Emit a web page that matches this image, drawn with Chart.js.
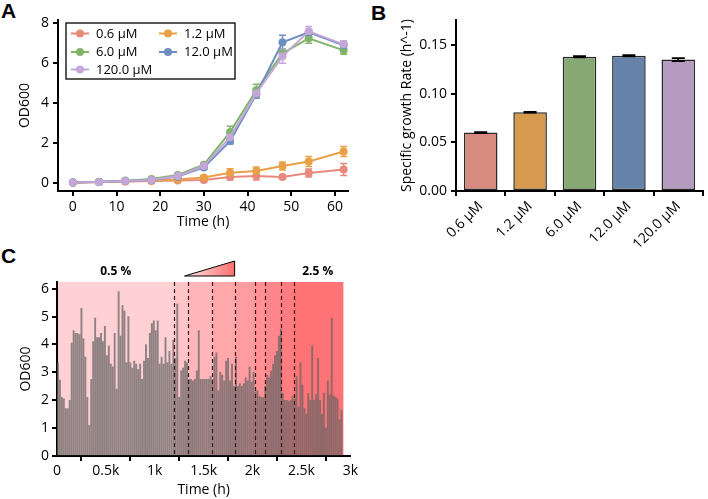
<!DOCTYPE html>
<html><head><meta charset="utf-8">
<script src="https://cdn.jsdelivr.net/npm/chart.js@4.4.0/dist/chart.umd.min.js"></script>
<style>
html,body{margin:0;padding:0;background:#fff;}
body{width:708px;height:499px;overflow:hidden;position:relative;}
canvas{position:absolute;}
.lbl{position:absolute;font:bold 21px "Liberation Sans",Arial,sans-serif;color:#000;line-height:1;}
</style></head><body>
<div class="lbl" style="left:1px;top:0px">A</div>
<div class="lbl" style="left:371px;top:2px">B</div>
<div class="lbl" style="left:1px;top:245px">C</div>
<canvas id="ca" style="left:0;top:0" width="360" height="235"></canvas>
<canvas id="cb" style="left:360px;top:0" width="348" height="260"></canvas>
<canvas id="cc" style="left:0;top:240px" width="360" height="259"></canvas>
<script>
// ---------- Panel A data ----------
const aTimes = [0, 6, 12, 18, 24, 30, 36, 42, 48, 54, 62];
const aLabels = ['0.6 µM', '1.2 µM', '6.0 µM', '12.0 µM', '120.0 µM'];
const aColors = ['#E8897D', '#E9A046', '#80B46C', '#6D8FC0', '#C4A6D8'];
const od_06  = [0.02, 0.05, 0.08, 0.10, 0.12, 0.15, 0.30, 0.35, 0.30, 0.50, 0.68];
const od_12  = [0.02, 0.05, 0.08, 0.12, 0.18, 0.28, 0.52, 0.60, 0.85, 1.08, 1.58];
const od_60  = [0.02, 0.06, 0.12, 0.20, 0.40, 0.92, 2.55, 4.65, 6.50, 7.25, 6.65];
const od_120 = [0.02, 0.05, 0.10, 0.15, 0.32, 0.78, 2.10, 4.45, 7.05, 7.55, 6.90];
const od_1200= [0.02, 0.05, 0.10, 0.15, 0.35, 0.85, 2.30, 4.50, 6.35, 7.60, 6.95];
const err_06  = [0.02, 0.02, 0.02, 0.03, 0.05, 0.08, 0.15, 0.20, 0.10, 0.20, 0.30];
const err_12  = [0.02, 0.02, 0.02, 0.03, 0.05, 0.08, 0.20, 0.20, 0.20, 0.25, 0.25];
const err_60  = [0.02, 0.02, 0.02, 0.03, 0.05, 0.08, 0.30, 0.30, 0.20, 0.25, 0.20];
const err_120 = [0.02, 0.02, 0.02, 0.03, 0.05, 0.08, 0.15, 0.20, 0.35, 0.15, 0.20];
const err_1200= [0.02, 0.02, 0.02, 0.03, 0.05, 0.08, 0.20, 0.20, 0.35, 0.25, 0.15];
const aTicksY = [0, 2, 4, 6, 8];
const aTicksX = [0, 10, 20, 30, 40, 50, 60];

// ---------- Panel B data ----------
const bLabels = ['0.6 µM', '1.2 µM', '6.0 µM', '12.0 µM', '120.0 µM'];
const bRates  = [0.060, 0.081, 0.138, 0.139, 0.135];
const bErrs   = [0.0004, 0.0004, 0.0006, 0.0006, 0.0015];
const bColors = ['#D78B7F', '#D69A4F', '#86A872', '#6683A9', '#B59BBF'];
const bTicksY = [0, 0.05, 0.10, 0.15];

// ---------- Panel C data ----------
const cTimes = [
  10, 30, 50, 70, 90, 110, 130, 150, 170, 190,
  210, 230, 250, 270, 290, 310, 330, 350, 370, 390,
  410, 430, 450, 470, 490, 510, 530, 550, 570, 590,
  610, 630, 650, 670, 690, 710, 730, 750, 770, 790,
  810, 830, 850, 870, 890, 910, 930, 950, 970, 990,
  1010, 1030, 1050, 1070, 1090, 1110, 1130, 1150, 1170, 1190,
  1210, 1230, 1250, 1270, 1290, 1310, 1330, 1350, 1370, 1390,
  1410, 1430, 1450, 1470, 1490, 1510, 1530, 1550, 1570, 1590,
  1610, 1630, 1650, 1670, 1690, 1710, 1730, 1750, 1770, 1790,
  1810, 1830, 1850, 1870, 1890, 1910, 1930, 1950, 1970, 1990,
  2010, 2030, 2050, 2070, 2090, 2110, 2130, 2150, 2170, 2190,
  2210, 2230, 2250, 2270, 2290, 2310, 2330, 2350, 2370, 2390,
  2410, 2430, 2450, 2470, 2490, 2510, 2530, 2550, 2570, 2590,
  2610, 2630, 2650, 2670, 2690, 2710, 2730, 2750, 2770, 2790,
  2810, 2830, 2850, 2870, 2890, 2910];
const cOD = [
  3.35, 2.72, 2.10, 2.05, 1.70, 1.70, 2.00, 4.05, 4.50, 4.40,
  4.40, 4.35, 5.30, 4.20, 3.55, 2.10, 1.10, 2.75, 4.10, 4.95,
  4.25, 4.25, 4.40, 4.10, 4.65, 3.60, 3.95, 3.30, 3.20, 4.40,
  2.40, 5.90, 4.30, 5.40, 5.20, 3.35, 5.00, 3.35, 3.15, 3.40,
  3.30, 3.10, 3.30, 2.75, 3.40, 4.00, 3.50, 4.40, 4.75, 4.85,
  4.50, 4.85, 3.30, 3.55, 3.30, 4.25, 3.35, 3.75, 3.30, 4.15,
  3.50, 5.45, 2.10, 3.05, 3.15, 3.40, 3.35, 2.75, 2.75, 2.70,
  2.75, 3.05, 4.50, 2.75, 2.75, 2.75, 2.75, 2.75, 2.85, 2.75,
  3.55, 3.70, 2.35, 3.00, 2.90, 2.70, 3.40, 3.50, 2.70, 3.30,
  2.50, 3.55, 2.50, 2.60, 2.50, 2.60, 2.80, 2.70, 3.20, 2.65,
  3.00, 2.30, 2.35, 2.15, 2.10, 2.10, 2.50, 2.90, 2.80, 3.05,
  3.30, 3.60, 3.75, 4.30, 4.55, 2.25, 2.00, 2.00, 1.95, 2.00,
  2.15, 2.05, 2.85, 1.75, 3.35, 2.55, 1.70, 1.50, 2.25, 2.00,
  3.95, 2.00, 2.20, 3.50, 2.00, 1.50, 2.25, 1.00, 2.70, 2.20,
  4.95, 2.15, 2.10, 2.05, 1.30, 1.65];
const cBounds = [0, 1193, 1339, 1588, 1820, 2022, 2127, 2289, 2421, 2926];
const cBandColors = ['#FFD0D4', '#FFC4C8', '#FFB6BA', '#FFA8AC', '#FF9CA0', '#FF9195', '#FF878B', '#FF7D81', '#FF7276'];
const cTickLabels = {0: '0', 500: '0.5k', 1000: '1k', 1500: '1.5k', 2000: '2k', 2500: '2.5k', 3000: '3k'};
const cNotes = [{x: 600, text: '0.5 %'}, {x: 2666, text: '2.5 %'}];
const cRamp = [1305, 1817];

Chart.defaults.font.family = '"Open Sans", "DejaVu Sans", sans-serif';
Chart.defaults.font.size = 13;
Chart.defaults.color = '#000';
Chart.defaults.animation = false;
Chart.defaults.devicePixelRatio = 1;
Chart.defaults.plugins.legend.display = false;
Chart.defaults.plugins.tooltip.enabled = false;

function axisStyle() {
  return {
    border: {display: true, color: '#000', width: 2},
    grid: {display: true, drawOnChartArea: false, drawTicks: true, tickLength: 5, color: '#000', lineWidth: 2}
  };
}
function fixTicks(list) {
  return function (scale) { scale.ticks = list.map(v => ({value: v})); };
}

// ---------- Panel A ----------
const aSeries = [od_06, od_12, od_60, od_120, od_1200];
const aErrs = [err_06, err_12, err_60, err_120, err_1200];
const aOrder = [4, 3, 2, 1, 0];
const errPluginA = {
  id: 'errA',
  beforeDatasetsDraw(chart) {
    const ctx = chart.ctx, xs = chart.scales.x, ys = chart.scales.y;
    ctx.save();
    chart.data.datasets.forEach((ds, i) => {
      ctx.strokeStyle = ds.borderColor;
      ctx.lineWidth = 1.5;
      aTimes.forEach((t, j) => {
        const v = aSeries[i][j], e = aErrs[i][j];
        const px = xs.getPixelForValue(t);
        const y1 = ys.getPixelForValue(v + e), y2 = ys.getPixelForValue(v - e);
        ctx.beginPath();
        ctx.moveTo(px, y1); ctx.lineTo(px, y2);
        ctx.moveTo(px - 3.5, y1); ctx.lineTo(px + 3.5, y1);
        ctx.moveTo(px - 3.5, y2); ctx.lineTo(px + 3.5, y2);
        ctx.stroke();
      });
    });
    ctx.restore();
  },
  afterDraw(chart) {
    const ctx = chart.ctx, ca = chart.chartArea;
    const bx = ca.left + 8, by = ca.top + 3, bw = 169, bh = 56;
    ctx.save();
    ctx.fillStyle = '#fff';
    ctx.fillRect(bx, by, bw, bh);
    ctx.strokeStyle = '#000'; ctx.lineWidth = 1.3;
    ctx.strokeRect(bx, by, bw, bh);
    const cols = [bx + 5, bx + 93], rows = [by + 10.5, by + 29, by + 46.5];
    const pos = [[0, 0], [1, 0], [0, 1], [1, 1], [0, 2]];
    ctx.font = '13px "Open Sans", sans-serif';
    ctx.textBaseline = 'middle';
    aLabels.forEach((lab, i) => {
      const x0 = cols[pos[i][0]], y0 = rows[pos[i][1]];
      ctx.strokeStyle = aColors[i]; ctx.lineWidth = 2;
      ctx.beginPath(); ctx.moveTo(x0, y0); ctx.lineTo(x0 + 18, y0); ctx.stroke();
      ctx.fillStyle = aColors[i];
      ctx.beginPath(); ctx.arc(x0 + 9, y0, 4, 0, Math.PI * 2); ctx.fill();
      ctx.fillStyle = '#000';
      ctx.fillText(lab, x0 + 25, y0 + 0.5);
    });
    ctx.restore();
  }
};
new Chart(document.getElementById('ca'), {
  type: 'line',
  data: {
    datasets: aLabels.map((lab, i) => ({
      label: lab,
      data: aTimes.map((t, j) => ({x: t, y: aSeries[i][j]})),
      borderColor: aColors[i], backgroundColor: aColors[i],
      pointBackgroundColor: aColors[i], pointBorderColor: aColors[i],
      borderWidth: 2, pointRadius: 4, pointBorderWidth: 0, tension: 0,
      order: aOrder[i]
    }))
  },
  options: {
    responsive: false,
    layout: {padding: {left: 17, right: 12, top: 20, bottom: 0}},
    scales: {
      x: Object.assign(axisStyle(), {
        type: 'linear', min: -3.4, max: 63,
        afterBuildTicks: fixTicks(aTicksX),
        afterFit(s) { s.height = 44; },
        ticks: {padding: 3, font: {size: 14}},
        title: {display: true, text: 'Time (h)', font: {size: 14}, padding: {top: 0, bottom: 5}}
      }),
      y: Object.assign(axisStyle(), {
        type: 'linear', min: -0.4, max: 8.17,
        afterBuildTicks: fixTicks(aTicksY),
        afterFit(s) { s.width = 41; },
        ticks: {padding: 4, font: {size: 14}},
        title: {display: true, text: 'OD600', font: {size: 14}, padding: {top: 0, bottom: 0}}
      })
    }
  },
  plugins: [errPluginA]
});

// ---------- Panel B ----------
const errPluginB = {
  id: 'errB',
  afterDatasetsDraw(chart) {
    const ctx = chart.ctx, xs = chart.scales.x, ys = chart.scales.y;
    ctx.save();
    ctx.strokeStyle = '#000'; ctx.lineWidth = 1.8;
    bRates.forEach((v, i) => {
      const px = xs.getPixelForValue(i);
      const y1 = ys.getPixelForValue(v + bErrs[i]), y2 = ys.getPixelForValue(v - bErrs[i]);
      ctx.beginPath();
      ctx.moveTo(px, y1); ctx.lineTo(px, y2);
      ctx.moveTo(px - 6.5, y1); ctx.lineTo(px + 6.5, y1);
      ctx.moveTo(px - 6.5, y2); ctx.lineTo(px + 6.5, y2);
      ctx.stroke();
    });
    ctx.restore();
  }
};
new Chart(document.getElementById('cb'), {
  type: 'bar',
  data: {
    labels: bLabels,
    datasets: [{
      data: bRates,
      backgroundColor: bColors,
      borderColor: '#2a2a2a', borderWidth: 1.5, borderSkipped: false,
      barPercentage: 0.68, categoryPercentage: 1
    }]
  },
  options: {
    responsive: false,
    layout: {padding: {left: 39, right: 5, top: 20, bottom: 0}},
    scales: {
      x: Object.assign(axisStyle(), {
        afterFit(s) { s.height = 69; },
        ticks: {padding: 2, minRotation: 45, maxRotation: 45, font: {size: 14}}
      }),
      y: Object.assign(axisStyle(), {
        type: 'linear', min: 0, max: 0.1757,
        afterBuildTicks: fixTicks(bTicksY),
        afterFit(s) { s.width = 57; },
        ticks: {padding: 4, font: {size: 14}, callback: v => v.toFixed(2)},
        title: {display: true, text: 'Specific growth Rate (h^-1)', font: {size: 14}, padding: {top: 0, bottom: 0}}
      })
    }
  },
  plugins: [errPluginB]
});

// ---------- Panel C ----------
const cPlugin = {
  id: 'cbg',
  beforeDraw(chart) {
    const ctx = chart.ctx, xs = chart.scales.x, ca = chart.chartArea;
    ctx.save();
    for (let i = 0; i < cBandColors.length; i++) {
      const x1 = xs.getPixelForValue(cBounds[i]), x2 = xs.getPixelForValue(cBounds[i + 1]);
      ctx.fillStyle = cBandColors[i];
      ctx.fillRect(x1, ca.top, x2 - x1 + 0.3, ca.bottom - ca.top);
    }
    ctx.restore();
  },
  afterDatasetsDraw(chart) {
    const ctx = chart.ctx, xs = chart.scales.x, ca = chart.chartArea;
    ctx.save();
    ctx.strokeStyle = '#3a1616'; ctx.lineWidth = 1.2; ctx.setLineDash([4, 3]);
    for (let i = 1; i < cBounds.length - 1; i++) {
      const x = Math.round(xs.getPixelForValue(cBounds[i])) + 0.5;
      ctx.beginPath(); ctx.moveTo(x, ca.top); ctx.lineTo(x, ca.bottom); ctx.stroke();
    }
    ctx.restore();
  },
  afterDraw(chart) {
    const ctx = chart.ctx, xs = chart.scales.x, ca = chart.chartArea;
    ctx.save();
    ctx.font = 'bold 12px "Open Sans", sans-serif';
    ctx.fillStyle = '#000'; ctx.textAlign = 'center'; ctx.textBaseline = 'middle';
    cNotes.forEach(n => ctx.fillText(n.text, xs.getPixelForValue(n.x), ca.top - 10));
    const x1 = xs.getPixelForValue(cRamp[0]), x2 = xs.getPixelForValue(cRamp[1]);
    const yb = ca.top - 6, yt = ca.top - 21;
    const g = ctx.createLinearGradient(x1, 0, x2, 0);
    g.addColorStop(0, '#FFE6E6'); g.addColorStop(1, '#FF6E6E');
    ctx.beginPath(); ctx.moveTo(x1, yb); ctx.lineTo(x2, yb); ctx.lineTo(x2, yt); ctx.closePath();
    ctx.fillStyle = g; ctx.fill();
    ctx.strokeStyle = '#000'; ctx.lineWidth = 1; ctx.stroke();
    ctx.restore();
  }
};
new Chart(document.getElementById('cc'), {
  type: 'bar',
  data: {
    datasets: [{
      data: cTimes.map((t, i) => ({x: t, y: cOD[i]})),
      backgroundColor: 'rgba(100,100,100,0.72)',
      borderWidth: 0, barThickness: 1.25
    }]
  },
  options: {
    responsive: false,
    layout: {padding: {left: 18, right: 6, top: 42, bottom: 0}},
    scales: {
      x: Object.assign(axisStyle(), {
        type: 'linear', min: 0, max: 3000, offset: false,
        afterBuildTicks: fixTicks([0, 500, 1000, 1500, 2000, 2500, 3000]),
        afterFit(s) { s.height = 43; },
        ticks: {padding: 2, font: {size: 14}, callback: v => cTickLabels[v]},
        title: {display: true, text: 'Time (h)', font: {size: 14}, padding: {top: 0, bottom: 1}}
      }),
      y: Object.assign(axisStyle(), {
        type: 'linear', min: 0, max: 6.24,
        afterBuildTicks: fixTicks([0, 1, 2, 3, 4, 5, 6]),
        afterFit(s) { s.width = 39; },
        ticks: {padding: 3, font: {size: 14}},
        title: {display: true, text: 'OD600', font: {size: 14}, padding: {top: 0, bottom: 0}}
      })
    }
  },
  plugins: [cPlugin]
});
</script>
</body></html>
